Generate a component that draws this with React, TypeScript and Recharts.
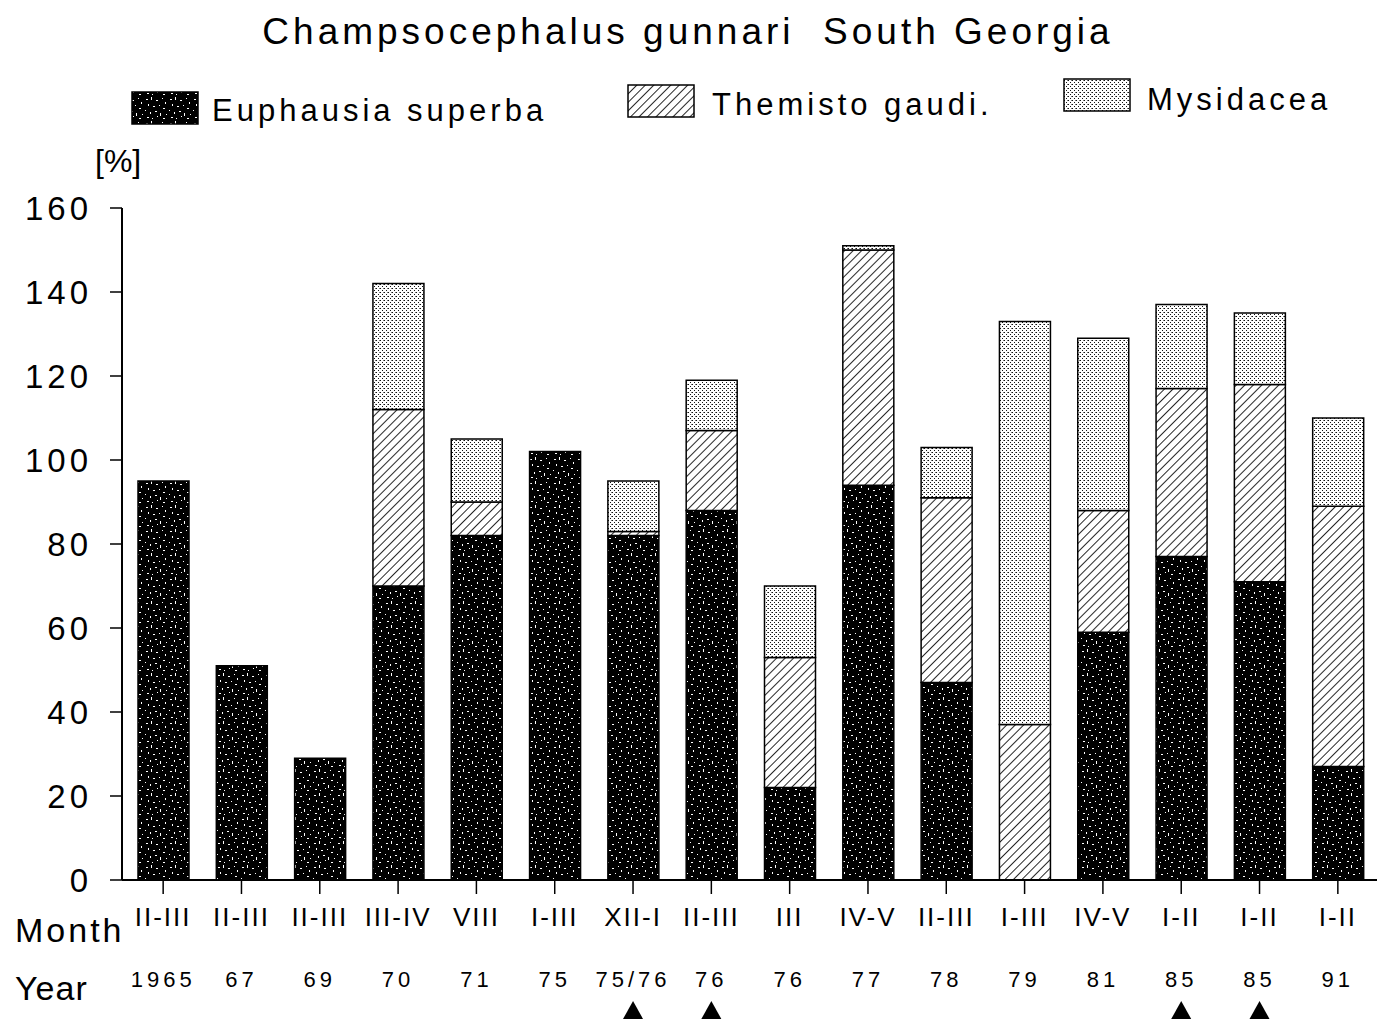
import React from 'react';
import { BarChart, Bar, XAxis, YAxis } from 'recharts';

// diet composition (percent, stacked)
const months = ['II-III', 'II-III', 'II-III', 'III-IV', 'VIII', 'I-III', 'XII-I', 'II-III', 'III', 'IV-V', 'II-III', 'I-III', 'IV-V', 'I-II', 'I-II', 'I-II'];
const years = ['1965', '67', '69', '70', '71', '75', '75/76', '76', '76', '77', '78', '79', '81', '85', '85', '91'];
const euphausia = [95, 51, 29, 70, 82, 102, 82, 88, 22, 94, 47, 0, 59, 77, 71, 27];
const themisto = [0, 0, 0, 42, 8, 0, 1, 19, 31, 56, 44, 37, 29, 40, 47, 62];
const mysidacea = [0, 0, 0, 30, 15, 0, 12, 12, 17, 1, 12, 96, 41, 20, 17, 21];
const marked = [false, false, false, false, false, false, true, true, false, false, false, false, false, true, true, false];
const yTicks = [0, 20, 40, 60, 80, 100, 120, 140, 160];

const data = years.map((_, i) => ({
    id: i,
    euphausia: euphausia[i],
    themisto: themisto[i],
    mysidacea: mysidacea[i],
}));

const FONT = '"Liberation Sans", Arial, sans-serif';

// white specks on black for the krill fill
const specks = [
    [2, 3, 2, 1], [7, 1, 1, 3], [12, 4, 2, 1], [18, 2, 1, 1], [21, 6, 1, 2], [4, 8, 1, 2],
    [9, 10, 2, 1], [15, 9, 1, 1], [19, 12, 2, 1], [1, 14, 1, 1], [6, 16, 1, 2], [11, 15, 2, 1],
    [16, 17, 1, 3], [22, 18, 1, 1], [3, 21, 2, 1], [8, 22, 1, 1], [13, 20, 1, 1], [19, 22, 2, 1],
];

function Patterns() {
    return (
        <defs>
            <pattern id="euph" width="24" height="24" patternUnits="userSpaceOnUse">
                <rect width="24" height="24" fill="#000" />
                {specks.map(([x, y, w, h], i) => (
                    <rect key={i} x={x} y={y} width={w} height={h} fill="#fff" />
                ))}
            </pattern>
            <pattern id="them" width="6" height="6" patternUnits="userSpaceOnUse" patternTransform="rotate(45)">
                <rect width="6" height="6" fill="#fff" />
                <line x1="0" y1="0" x2="0" y2="6" stroke="#000" strokeWidth="1.7" />
            </pattern>
            <pattern id="mys" width="4" height="4" patternUnits="userSpaceOnUse">
                <rect width="4" height="4" fill="#fff" />
                <rect x="0" y="0" width="1" height="1" fill="#111" />
                <rect x="2" y="2" width="1" height="1" fill="#111" />
                <rect x="3" y="0" width="1" height="1" fill="#777" />
            </pattern>
        </defs>
    );
}

function CategoryTick(props: any) {
    const { x, y, payload } = props;
    const i = Number(payload.value);
    return (
        <g>
            <text x={x} y={y + 32} textAnchor="middle" fontSize={26} letterSpacing={2} fontFamily={FONT} fill="#000">
                {months[i]}
            </text>
            <text x={x} y={y + 93} textAnchor="middle" fontSize={22} letterSpacing={4} fontFamily={FONT} fill="#000">
                {years[i]}
            </text>
            {marked[i] && (
                <path d={`M${x - 10},${y + 125} L${x},${y + 107} L${x + 10},${y + 125} Z`} fill="#000" />
            )}
        </g>
    );
}

function Swatch({ x, y, fill }: { x: number; y: number; fill: string }) {
    return <rect x={x} y={y} width={66} height={32} fill={fill} stroke="#000" strokeWidth={1.5} />;
}

export default function App() {
    const textProps = { fontFamily: FONT, fill: '#000' };
    return (
        <div style={{ position: 'absolute', left: 0, top: 0, width: 1377, height: 1028, background: '#fff' }}>
            <BarChart
                width={1377}
                height={1028}
                data={data}
                margin={{ top: 208, right: 0, bottom: 0, left: 0 }}
                barSize={51}
            >
                <XAxis
                    dataKey="id"
                    type="category"
                    height={148}
                    padding={{ left: 2, right: 0 }}
                    axisLine={{ stroke: '#000', strokeWidth: 2 }}
                    tickLine={{ stroke: '#000', strokeWidth: 1.5 }}
                    tickSize={14}
                    tickMargin={0}
                    interval={0}
                    tick={CategoryTick}
                />
                <YAxis
                    width={122}
                    domain={[0, 160]}
                    ticks={yTicks}
                    interval={0}
                    axisLine={{ stroke: '#000', strokeWidth: 2 }}
                    tickLine={{ stroke: '#000', strokeWidth: 1.5 }}
                    tickSize={12}
                    tickMargin={18}
                    tick={{ fontSize: 33, fill: '#000', fontFamily: FONT, letterSpacing: 4 }}
                />
                <Bar dataKey="euphausia" stackId="a" fill="url(#euph)" stroke="#000" strokeWidth={1.5} isAnimationActive={false} />
                <Bar dataKey="themisto" stackId="a" fill="url(#them)" stroke="#000" strokeWidth={1.5} isAnimationActive={false} />
                <Bar dataKey="mysidacea" stackId="a" fill="url(#mys)" stroke="#000" strokeWidth={1.5} isAnimationActive={false} />
            </BarChart>
            <svg
                width={1377}
                height={1028}
                style={{ position: 'absolute', left: 0, top: 0, pointerEvents: 'none' }}
            >
                <Patterns />
                <text x={688} y={44} textAnchor="middle" fontSize={37} letterSpacing={4} style={{ whiteSpace: 'pre' }} {...textProps}>
                    {'Champsocephalus gunnari  South Georgia'}
                </text>
                <Swatch x={132} y={92} fill="url(#euph)" />
                <text x={212} y={121} fontSize={31} letterSpacing={4} {...textProps}>Euphausia superba</text>
                <Swatch x={628} y={85} fill="url(#them)" />
                <text x={712} y={115} fontSize={31} letterSpacing={4} {...textProps}>Themisto gaudi.</text>
                <Swatch x={1064} y={79} fill="url(#mys)" />
                <text x={1147} y={110} fontSize={31} letterSpacing={4} {...textProps}>Mysidacea</text>
                <text x={95} y={172} fontSize={32} {...textProps}>[%]</text>
                <text x={15} y={942} fontSize={34} letterSpacing={3} {...textProps}>Month</text>
                <text x={15} y={1000} fontSize={34} letterSpacing={1} {...textProps}>Year</text>
            </svg>
        </div>
    );
}
